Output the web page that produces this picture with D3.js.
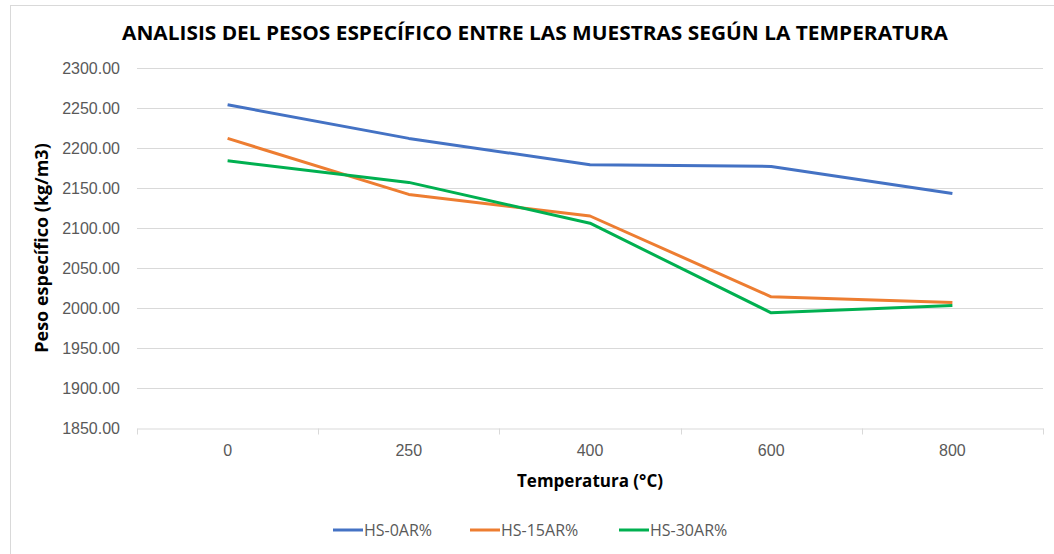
<!DOCTYPE html>
<html>
<head>
<meta charset="utf-8">
<script src="https://cdn.jsdelivr.net/npm/d3@7"></script>
<style>
  body { margin: 0; background: #fff; }
  svg { font-family: "Open Sans", "Noto Sans", sans-serif; }
</style>
</head>
<body>
<div id="chart"></div>
<script>
var categories = ["0", "250", "400", "600", "800"];
var seriesNames = ["HS-0AR%", "HS-15AR%", "HS-30AR%"];
var hs0 = [2254, 2212, 2179, 2177, 2143];
var hs15 = [2212, 2142, 2115, 2014, 2007];
var hs30 = [2184, 2157, 2106, 1994, 2003];
var yTicks = [1850, 1900, 1950, 2000, 2050, 2100, 2150, 2200, 2250, 2300];
var colors = ["#4472C4", "#ED7D31", "#00B050"];

var width = 1054, height = 554;
var margin = { left: 137, right: 11, top: 68, bottom: 126 };

var svg = d3.select("#chart").append("svg")
    .attr("width", width)
    .attr("height", height);

// chart border
svg.append("rect")
    .attr("x", 10.5).attr("y", 5.5)
    .attr("width", width + 10).attr("height", height + 10)
    .style("fill", "#fff")
    .style("stroke", "#d9d9d9");

var x = d3.scaleBand()
    .domain(categories)
    .range([margin.left, width - margin.right]);

var y = d3.scaleLinear()
    .domain([1850, 2300])
    .range([height - margin.bottom, margin.top]);

// gridlines
svg.append("g")
    .selectAll("line")
    .data(yTicks.slice(1))
    .enter().append("line")
    .attr("x1", margin.left).attr("x2", width - margin.right)
    .attr("y1", function(d){ return Math.round(y(d)) + 0.5; })
    .attr("y2", function(d){ return Math.round(y(d)) + 0.5; })
    .style("stroke", "#d9d9d9");

// y axis labels
var yAxis = svg.append("g")
    .attr("transform", "translate(" + (margin.left - 17) + ",0)")
    .call(d3.axisLeft(y).tickValues(yTicks).tickFormat(d3.format(".2f")).tickSize(0));
yAxis.select(".domain").remove();
yAxis.selectAll("text")
    .style("font-size", "16px")
    .style("fill", "#595959")
    .attr("x", 0);

// x axis
var xAxis = svg.append("g")
    .attr("transform", "translate(0," + (Math.round(y(1850)) + 0.5) + ")")
    .call(d3.axisBottom(x).tickSize(0).tickPadding(16));
xAxis.select(".domain").style("stroke", "#d9d9d9");
xAxis.selectAll("text")
    .style("font-size", "16px")
    .style("fill", "#595959");
xAxis.selectAll(".bound")
    .data(d3.range(categories.length + 1))
    .enter().append("line")
    .attr("class", "bound")
    .attr("x1", function(i){ return Math.round(margin.left + i * x.step()) + 0.5; })
    .attr("x2", function(i){ return Math.round(margin.left + i * x.step()) + 0.5; })
    .attr("y1", 0).attr("y2", 6)
    .style("stroke", "#d9d9d9");

// lines
var line = d3.line()
    .x(function(d, i){ return x(categories[i]) + x.bandwidth() / 2; })
    .y(function(d){ return y(d); });

[hs0, hs15, hs30].forEach(function(s, i){
    svg.append("path")
        .datum(s)
        .attr("d", line)
        .style("fill", "none")
        .style("stroke", colors[i])
        .style("stroke-width", 3)
        .style("stroke-linejoin", "round");
});

// title
svg.append("text")
    .attr("x", 535).attr("y", 40)
    .attr("text-anchor", "middle")
    .attr("textLength", 826)
    .attr("lengthAdjust", "spacingAndGlyphs")
    .style("font-size", "20px")
    .style("font-weight", "bold")
    .style("fill", "#000")
    .text("ANALISIS DEL PESOS ESPECÍFICO ENTRE LAS MUESTRAS SEGÚN LA TEMPERATURA");

// axis titles
svg.append("text")
    .attr("transform", "translate(48,248) rotate(-90)")
    .attr("text-anchor", "middle")
    .style("font-size", "18px")
    .style("font-weight", "bold")
    .style("fill", "#000")
    .text("Peso específico (kg/m3)");

svg.append("text")
    .attr("x", 590).attr("y", 487)
    .attr("text-anchor", "middle")
    .style("font-size", "17px")
    .style("font-weight", "bold")
    .style("fill", "#000")
    .text("Temperatura  (°C)");

// legend
var legendX = [333, 470, 619];
var legend = svg.append("g");
seriesNames.forEach(function(n, i){
    legend.append("line")
        .attr("x1", legendX[i]).attr("x2", legendX[i] + 30)
        .attr("y1", 530).attr("y2", 530)
        .style("stroke", colors[i])
        .style("stroke-width", 3);
    legend.append("text")
        .attr("x", legendX[i] + 31).attr("y", 536)
        .style("font-size", "16px")
        .style("fill", "#595959")
        .text(n);
});
</script>
</body>
</html>
